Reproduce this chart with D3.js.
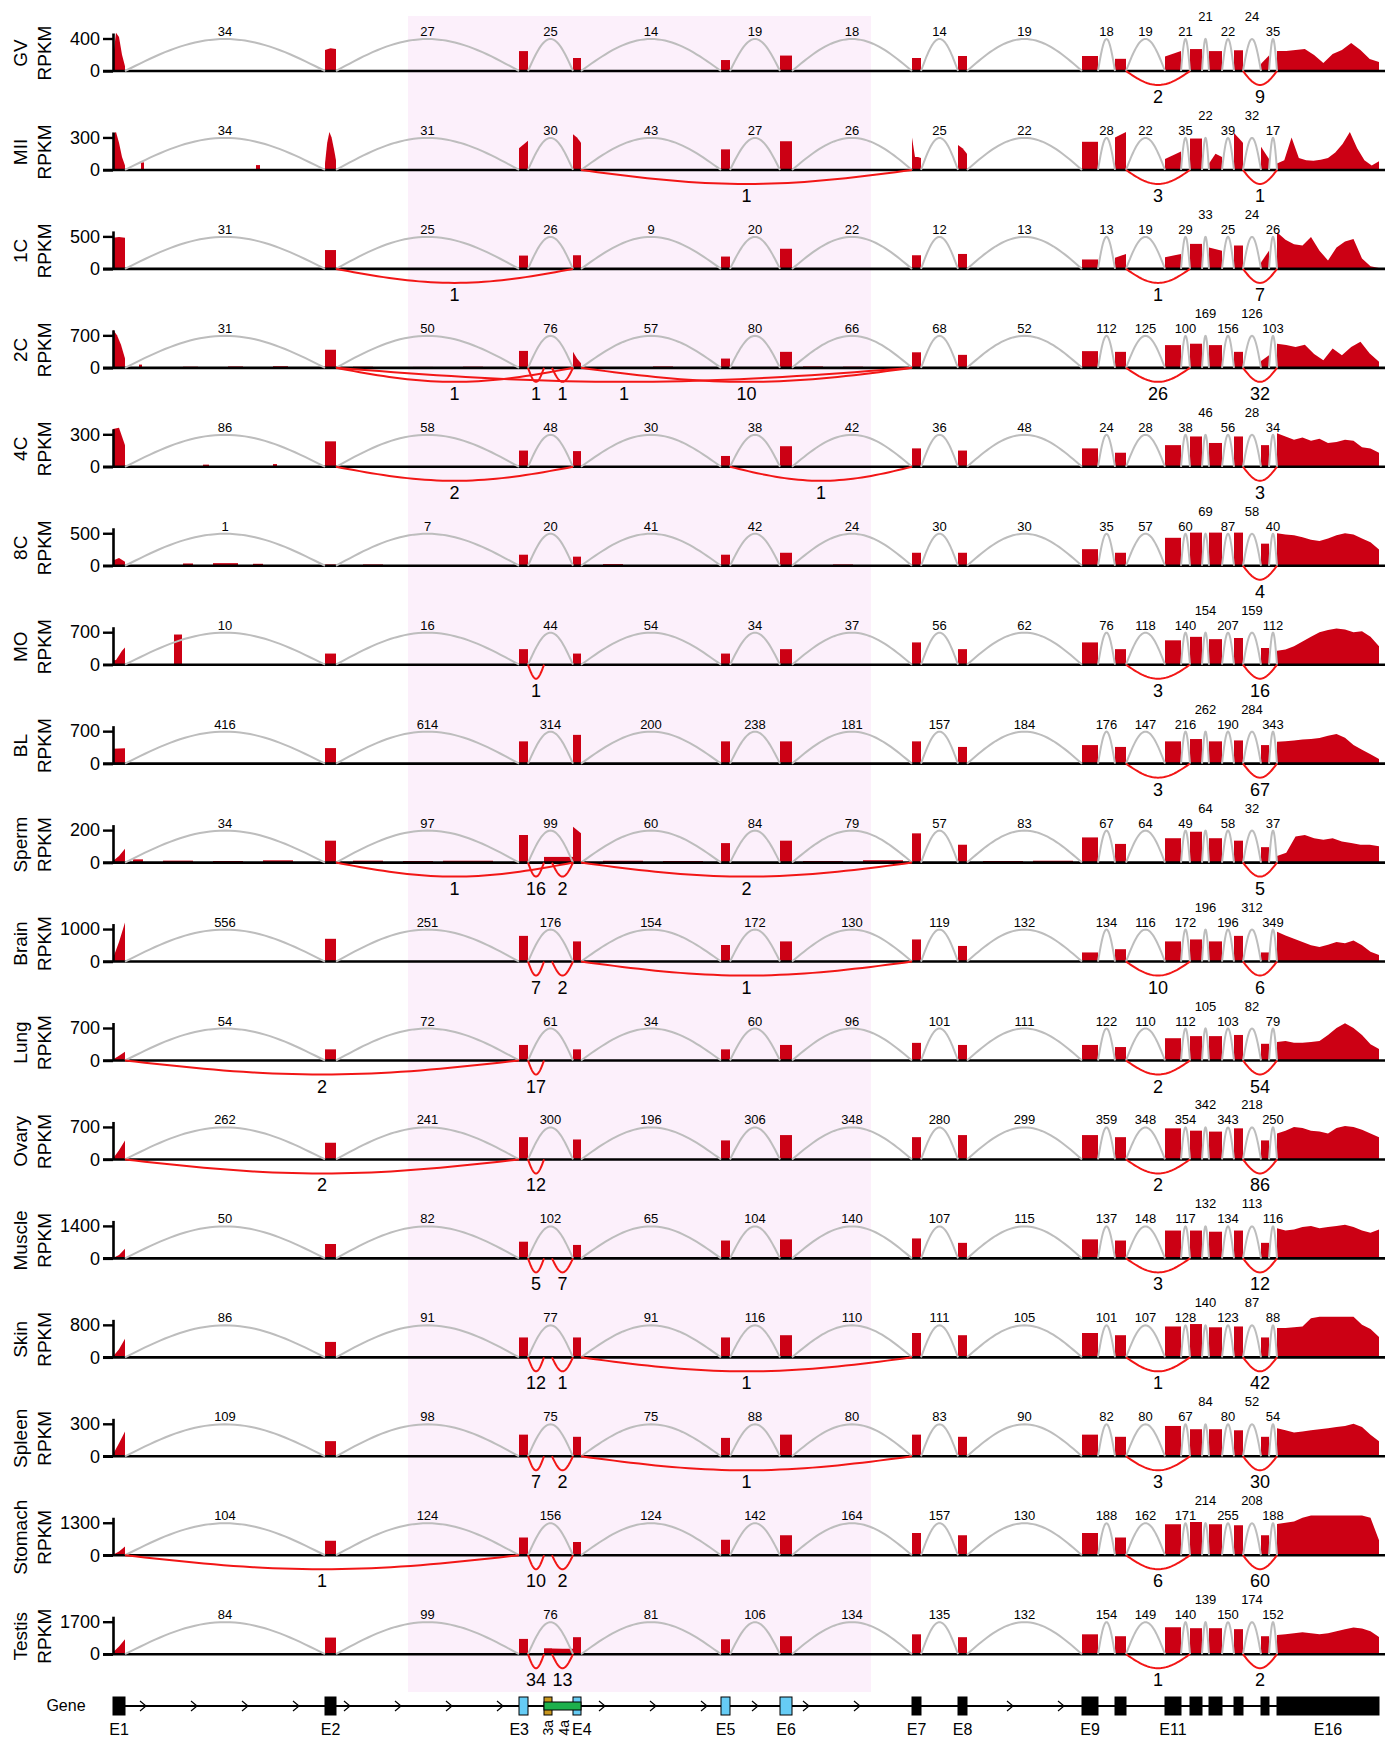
<!DOCTYPE html>
<html>
<head>
<meta charset="utf-8">
<script src="https://cdn.jsdelivr.net/npm/d3@7"></script>
<style>
  body { margin: 0; background: #fff; }
  svg text { font-family: "Liberation Sans", Arial, sans-serif; fill: #000; }
</style>
</head>
<body>
<svg id="chart" width="1396" height="1739"></svg>
<script>
// ---------- data ----------
const samples = ["GV", "MII", "1C", "2C", "4C", "8C", "MO", "BL", "Sperm", "Brain",
                 "Lung", "Ovary", "Muscle", "Skin", "Spleen", "Stomach", "Testis"];
const topTicks = [400, 300, 500, 700, 300, 500, 700, 700, 200, 1000,
                  700, 700, 1400, 800, 300, 1300, 1700];

// exons, position in kb along the gene
const exonIds   = ["E1", "E2", "E3", "E3a", "E4a", "E4", "E5", "E6", "E7", "E8",
                   "E9", "E10", "E11", "E12", "E13", "E14", "E15", "E16"];
const exonStart = [1.0, 22.2, 41.6, 44.1, 44.9, 47.0, 61.8, 67.7, 80.9, 85.5,
                   97.9, 101.2, 106.2, 108.7, 110.6, 113.1, 115.8, 117.4];
const exonEnd   = [2.2, 23.3, 42.5, 44.9, 47.0, 47.8, 62.7, 68.9, 81.8, 86.4,
                   99.5, 102.3, 107.8, 109.9, 111.9, 114.0, 116.6, 127.6];

// constitutive junctions (grey, above) and their read counts per sample
const junctions = [["E1","E2"],["E2","E3"],["E3","E4"],["E4","E5"],["E5","E6"],["E6","E7"],
                   ["E7","E8"],["E8","E9"],["E9","E10"],["E10","E11"],["E11","E12"],
                   ["E12","E13"],["E13","E14"],["E14","E15"],["E15","E16"]];
const raisedLabels = [11, 13];
const junctionCounts = [
  [34, 27, 25, 14, 19, 18, 14, 19, 18, 19, 21, 21, 22, 24, 35],
  [34, 31, 30, 43, 27, 26, 25, 22, 28, 22, 35, 22, 39, 32, 17],
  [31, 25, 26, 9, 20, 22, 12, 13, 13, 19, 29, 33, 25, 24, 26],
  [31, 50, 76, 57, 80, 66, 68, 52, 112, 125, 100, 169, 156, 126, 103],
  [86, 58, 48, 30, 38, 42, 36, 48, 24, 28, 38, 46, 56, 28, 34],
  [1, 7, 20, 41, 42, 24, 30, 30, 35, 57, 60, 69, 87, 58, 40],
  [10, 16, 44, 54, 34, 37, 56, 62, 76, 118, 140, 154, 207, 159, 112],
  [416, 614, 314, 200, 238, 181, 157, 184, 176, 147, 216, 262, 190, 284, 343],
  [34, 97, 99, 60, 84, 79, 57, 83, 67, 64, 49, 64, 58, 32, 37],
  [556, 251, 176, 154, 172, 130, 119, 132, 134, 116, 172, 196, 196, 312, 349],
  [54, 72, 61, 34, 60, 96, 101, 111, 122, 110, 112, 105, 103, 82, 79],
  [262, 241, 300, 196, 306, 348, 280, 299, 359, 348, 354, 342, 343, 218, 250],
  [50, 82, 102, 65, 104, 140, 107, 115, 137, 148, 117, 132, 134, 113, 116],
  [86, 91, 77, 91, 116, 110, 111, 105, 101, 107, 128, 140, 123, 87, 88],
  [109, 98, 75, 75, 88, 80, 83, 90, 82, 80, 67, 84, 80, 52, 54],
  [104, 124, 156, 124, 142, 164, 157, 130, 188, 162, 171, 214, 255, 208, 188],
  [84, 99, 76, 81, 106, 134, 135, 132, 154, 149, 140, 139, 150, 174, 152]
];

// alternative junctions (red, below): [from exon, to exon, reads]
const altJunctions = [
  [["E10","E12",2],["E14","E16",9]],
  [["E4","E7",1],["E10","E12",3],["E14","E16",1]],
  [["E2","E4",1],["E10","E12",1],["E14","E16",7]],
  [["E2","E4",1],["E3","E3a",1],["E3a","E4",1],["E2","E7",1],["E4","E7",10],["E10","E12",26],["E14","E16",32]],
  [["E2","E4",2],["E5","E7",1],["E14","E16",3]],
  [["E14","E16",4]],
  [["E3","E3a",1],["E10","E12",3],["E14","E16",16]],
  [["E10","E12",3],["E14","E16",67]],
  [["E2","E4",1],["E3","E3a",16],["E3a","E4",2],["E4","E7",2],["E14","E16",5]],
  [["E3","E3a",7],["E3a","E4",2],["E4","E7",1],["E10","E12",10],["E14","E16",6]],
  [["E1","E3",2],["E3","E3a",17],["E10","E12",2],["E14","E16",54]],
  [["E1","E3",2],["E3","E3a",12],["E10","E12",2],["E14","E16",86]],
  [["E3","E3a",5],["E3a","E4",7],["E10","E12",3],["E14","E16",12]],
  [["E3","E3a",12],["E3a","E4",1],["E4","E7",1],["E10","E12",1],["E14","E16",42]],
  [["E3","E3a",7],["E3a","E4",2],["E4","E7",1],["E10","E12",3],["E14","E16",30]],
  [["E1","E3",1],["E3","E3a",10],["E3a","E4",2],["E10","E12",6],["E14","E16",60]],
  [["E3","E3a",34],["E3a","E4",13],["E10","E12",1],["E14","E16",2]]
];

// coverage (RPKM) per exon, in exonIds order; several values = profile across the exon
const covGV = [[150,470,420,200,60],[260,280,270],[245],[0],[0],[160],[135],[190],[160],[185],[185],[150],[180,245],[270],[245],[255],[90,190],
  [246,246,258,270,197,98,209,258,345,258,148,110]];
const covMII = [[330,350,250,120,40],[60,250,350,300,200,90],[200,270],[0],[0],[330,300,250],[190],[265],[300,120,120,110],[230,200,150],[260],[300,350],[100,170],[290],[60,150,120],[340,250],[215,100],
  [60,90,300,110,90,85,95,110,160,240,350,200,90,40,80]];
const cov1C = [[480,490,480],[290],[205],[0],[0],[210],[190],[310],[210],[230],[145],[170,230],[180,230],[385],[330,280],[360],[100,280],
  [565,450,380,360,490,280,130,330,420,460,160,40,15]];
const cov2C = [[820,700,500,200],[390],[365],[0],[0],[345,200,100],[200],[345],[335],[280],[360],[345],[490],[520],[490],[345],[150,270],
  [520,490,450,500,300,165,415,270,450,560,310,130]];
const cov4C = [[350,360,200],[235],[150],[0],[0],[145],[100],[190],[170],[150],[170],[130],[200],[280],[220],[280],[200],
  [310,280,250,270,240,260,220,230,250,240,180,170,130]];
const cov8C = [[80,120,60],[20],[170],[0],[0],[140],[170],[200],[200],[200],[255],[200],[430],[510],[510],[510],[340],
  [500,480,470,440,400,380,420,470,500,480,420,360,250]];
const covMO = [[90,100,200,300,370],[240],[335],[0],[0],[240],[240],[335],[480],[335],[480],[335],[525],[600],[550],[575],[360],
  [300,330,400,500,600,700,750,780,760,700,720,600,400]];
const covBL = [[320,330],[335],[480],[0],[0],[620],[480],[480],[480],[360],[400],[360],[480],[530],[480],[500],[400],
  [470,480,500,520,530,550,600,640,560,400,300,200,100]];
const covSperm = [[10,40,86],[135],[170],[35],[35],[220,180],[120],[135],[180],[110],[155],[115],[150],[190],[150],[135],[95],
  [40,60,160,170,150,140,150,130,120,110,110,100]];
const covBrain = [[100,600,1200],[700],[790],[0],[0],[620],[510],[620],[680],[480],[280],[380],[620],[680],[620],[790],[280],
  [920,800,700,600,500,450,520,600,560,650,500,300,200]];
const covLung = [[20,100,190],[240],[335],[0],[0],[240],[240],[335],[380],[335],[335],[290],[480],[525],[525],[550],[360],
  [400,420,380,380,400,420,550,700,800,700,550,350,250]];
const covOvary = [[20,200,410],[360],[480],[0],[0],[430],[410],[525],[480],[525],[525],[480],[670],[620],[600],[670],[410],
  [560,620,700,680,620,600,560,680,720,700,640,560,480]];
const covMuscle = [[20,150,420],[620],[720],[0],[0],[580],[770],[820],[860],[670],[820],[770],[1200],[1200],[1150],[1200],[670],
  [1300,1200,1250,1350,1400,1300,1350,1400,1450,1350,1200,1100,1250]];
const covSkin = [[20,200,460],[380],[490],[0],[0],[490],[490],[545],[600],[545],[600],[545],[760],[820],[740],[760],[490],
  [720,720,740,760,960,1000,1000,1000,1000,1000,800,700,500]];
const covSpleen = [[20,120,230],[140],[200],[0],[0],[180],[170],[200],[200],[180],[200],[180],[280],[250],[250],[240],[180],
  [260,240,220,230,240,250,260,270,280,300,270,200,140]];
const covStomach = [[20,150,350],[580],[710],[0],[0],[530],[620],[800],[890],[800],[890],[710],[1240],[1330],[1240],[1200],[800],
  [1250,1300,1350,1500,1590,1590,1590,1590,1590,1590,1590,1500,600]];
const covTestis = [[100,400,780],[870],[800],[310],[300,290,280],[890],[780],[940],[1040],[890],[1040],[940],[1410],[1360],[1360],[1310],[940],
  [1000,1050,1100,1150,1100,1050,1100,1200,1300,1400,1350,1200,900]];
const coverage = [covGV, covMII, cov1C, cov2C, cov4C, cov8C, covMO, covBL, covSperm, covBrain,
                  covLung, covOvary, covMuscle, covSkin, covSpleen, covStomach, covTestis];

// reads outside annotated exons: [start kb, end kb, RPKM]
const extraBlocks = [
  [], [[3.8,4.1,70],[15.3,15.7,45]], [], 
  [[3.6,3.9,70],[8.0,9.5,25],[12.5,14.0,30],[17.0,18.5,35],[25.0,27.0,25],[31.0,33.0,20],[36.0,38.0,25],
   [55.0,57.0,30],[70.0,72.0,30],[74.0,76.0,25]],
  [[10.0,10.6,20],[17.0,17.4,25]],
  [[8.0,9.0,35],[11.0,13.5,40],[15.0,16.0,30],[26.0,28.0,20],[50.0,52.0,25],[73.0,75.0,20]],
  [[7.1,7.9,650]], [],
  [[3.0,4.0,20],[6.0,9.0,12],[11.0,14.0,10],[16.0,19.0,14],[25.0,28.0,12],[30.0,33.0,10],[34.0,39.0,12],
   [50.0,54.0,12],[56.0,60.0,10],[70.0,74.0,10],[76.0,80.0,14],[88.0,92.0,10],[93.0,97.0,12]],
  [], [], [], [], [], [], [], []
];

// gene model
const geneBoxes = [["E1","black"],["E2","black"],["E3","blue"],["E3a","gold"],["E4","blue"],["E5","blue"],["E6","blue"],
                   ["E7","black"],["E8","black"],["E9","black"],["E10","black"],["E11","black"],["E12","black"],
                   ["E13","black"],["E14","black"],["E15","black"],["E16","black"]];
const geneLabels = ["E1","E2","E3","E4","E5","E6","E7","E8","E9","E11","E16"];
const sideLabels = [["E3a","3a"],["E4a","4a"]];
const highlight = [30.5, 76.8]; // kb range of shaded region

// ---------- drawing ----------
const svg = d3.select("#chart");
const x = d3.scaleLinear().domain([0, 128.2]).range([103, 1385]);
const rowGap = 98.95, firstBase = 71;
const axisX = 113;
const ex = id => exonIds.indexOf(id);
const colors = { black: "#000", blue: "#66ccf5", gold: "#c8961e", green: "#1db04c" };

svg.append("rect")
   .attr("x", x(highlight[0])).attr("y", 16)
   .attr("width", x(highlight[1]) - x(highlight[0])).attr("height", 1676)
   .attr("fill", "#fcf0fb");

// half-sine arc between two x pixels
const arcLine = d3.line();
function arcPath(x1, x2, base, h) {
  const pts = d3.range(0, 41).map(i => {
    const t = i / 40;
    return [x1 + (x2 - x1) * t, base - h * Math.sin(Math.PI * t)];
  });
  return arcLine(pts);
}

samples.forEach((name, i) => {
  const base = firstBase + i * rowGap;
  const tick = topTicks[i];
  const y = d3.scaleLinear().domain([0, tick * 38 / 32.5]).range([base, base - 38]);
  const g = svg.append("g").attr("class", "row");

  // coverage
  const area = d3.area().x(d => x(d[0])).y0(base).y1(d => y(d[1]));
  const segs = coverage[i].map((prof, k) => {
    const s = exonStart[k], e = exonEnd[k];
    if (prof.length === 1) return [[s, prof[0]], [e, prof[0]]];
    return prof.map((v, j) => [s + (e - s) * j / (prof.length - 1), v]);
  }).concat(extraBlocks[i].map(b => [[b[0], b[2]], [b[1], b[2]]]));
  g.selectAll("path.cov").data(segs.filter(s => d3.max(s, d => d[1]) > 0)).enter()
   .append("path").attr("class", "cov")
   .attr("d", area).attr("fill", "#cc0014");

  // baseline
  g.append("line").attr("x1", 103).attr("x2", 1385).attr("y1", base).attr("y2", base)
   .attr("stroke", "#000").attr("stroke-width", 2.6);

  // y axis
  const axis = d3.axisLeft(y).tickValues([0, tick]).tickFormat(d3.format("d"))
                 .tickSize(10).tickSizeOuter(0).tickPadding(3);
  const ga = g.append("g").attr("transform", `translate(${axisX},0)`).call(axis);
  ga.select(".domain").attr("stroke-width", 2.6);
  ga.selectAll(".tick line").attr("stroke-width", 2.4);
  ga.selectAll(".tick text").attr("font-size", 18).attr("font-family", '"Liberation Sans", Arial, sans-serif');

  // row label
  g.append("text").attr("transform", `translate(27,${base - 18}) rotate(-90)`)
   .attr("text-anchor", "middle").attr("font-size", 19).text(name);
  g.append("text").attr("transform", `translate(51,${base - 18}) rotate(-90)`)
   .attr("text-anchor", "middle").attr("font-size", 19).text("RPKM");

  // grey junctions above
  junctions.forEach((jn, k) => {
    const x1 = x(exonEnd[ex(jn[0])]), x2 = x(exonStart[ex(jn[1])]);
    g.append("path").attr("d", arcPath(x1, x2, base, 32))
     .attr("fill", "none").attr("stroke", "#bdbdbd").attr("stroke-width", 2);
    const raised = raisedLabels.includes(k);
    g.append("text").attr("x", (x1 + x2) / 2).attr("y", base - (raised ? 50 : 35))
     .attr("text-anchor", "middle").attr("font-size", 13).text(junctionCounts[i][k]);
  });

  // red junctions below
  altJunctions[i].forEach(jn => {
    const x1 = x(exonEnd[ex(jn[0])]), x2 = x(exonStart[ex(jn[1])]);
    g.append("path").attr("d", arcPath(x1, x2, base, -14))
     .attr("fill", "none").attr("stroke", "#f21616").attr("stroke-width", 2);
    g.append("text").attr("x", (x1 + x2) / 2).attr("y", base + 32)
     .attr("text-anchor", "middle").attr("font-size", 18).text(jn[2]);
  });
});

// ---------- gene model ----------
const gy = 1706;
const gene = svg.append("g");
gene.append("text").attr("x", 66).attr("y", gy + 5).attr("text-anchor", "middle")
    .attr("font-size", 16).text("Gene");
gene.append("line").attr("x1", x(exonStart[0])).attr("x2", x(exonEnd[exonEnd.length - 1]))
    .attr("y1", gy).attr("y2", gy).attr("stroke", "#000").attr("stroke-width", 2);

// direction chevrons along introns
const boxes = geneBoxes.map(b => [x(exonStart[ex(b[0])]), x(exonEnd[ex(b[0])])]);
d3.range(143, 1280, 51).filter(p => !boxes.some(b => p > b[0] - 10 && p < b[1] + 10))
  .forEach(p => {
    gene.append("path").attr("d", `M${p - 3},${gy - 5}L${p + 3},${gy}L${p - 3},${gy + 5}`)
        .attr("fill", "none").attr("stroke", "#000").attr("stroke-width", 1.2);
  });

gene.selectAll("rect.exon").data(geneBoxes).enter().append("rect").attr("class", "exon")
    .attr("x", d => x(exonStart[ex(d[0])])).attr("width", d => x(exonEnd[ex(d[0])]) - x(exonStart[ex(d[0])]))
    .attr("y", gy - 9).attr("height", 18)
    .attr("fill", d => colors[d[1]]).attr("stroke", "#000").attr("stroke-width", 1);
// exon 4a: extended exon 4 from 3a to E4
gene.append("rect").attr("x", x(exonStart[ex("E3a")])).attr("width", x(exonEnd[ex("E4")]) - x(exonStart[ex("E3a")]))
    .attr("y", gy - 4).attr("height", 8).attr("fill", colors.green).attr("stroke", "#000").attr("stroke-width", 1);

gene.selectAll("text.elab").data(geneLabels).enter().append("text").attr("class", "elab")
    .attr("x", d => d === "E3" ? x(exonEnd[ex(d)]) + 1 : d === "E4" ? x(exonStart[ex(d)]) - 1
                              : (x(exonStart[ex(d)]) + x(exonEnd[ex(d)])) / 2)
    .attr("y", 1735)
    .attr("text-anchor", d => d === "E3" ? "end" : d === "E4" ? "start" : "middle")
    .attr("font-size", 16).text(d => d);
sideLabels.forEach(([id, t], k) => {
  const cx = k === 0 ? (x(exonStart[ex(id)]) + x(exonEnd[ex(id)])) / 2 : x(exonStart[ex("E4")]) - 9;
  gene.append("text").attr("transform", `translate(${cx + 5},1720) rotate(-90)`)
      .attr("text-anchor", "end").attr("font-size", 14).text(t);
});
</script>
</body>
</html>
